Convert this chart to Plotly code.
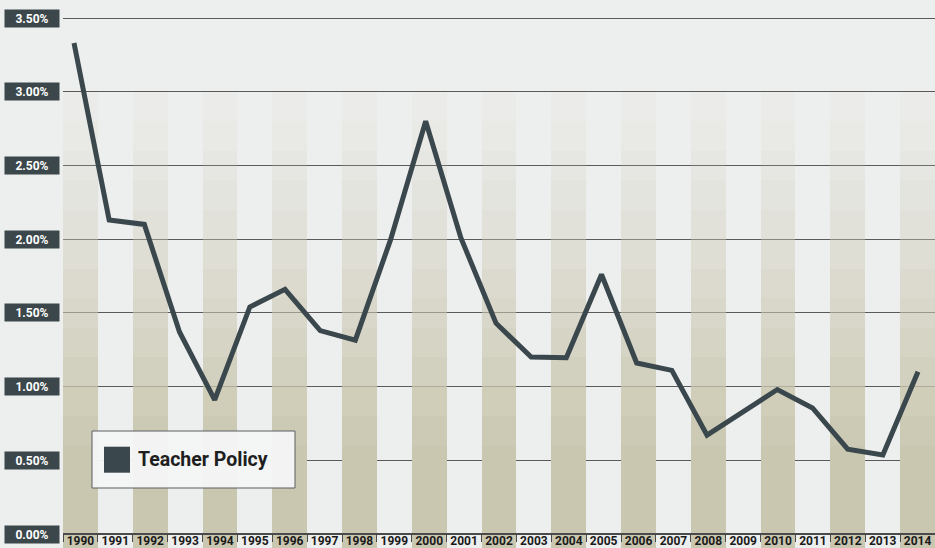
import plotly.graph_objects as go

# ---- data ----
years = [str(y) for y in range(1990, 2015)]
year_nums = list(range(1990, 2015))
teacher_policy = [3.33, 2.13, 2.10, 1.37, 0.91, 1.54, 1.66, 1.38, 1.315, 1.995,
                  2.80, 2.01, 1.43, 1.20, 1.195, 1.76, 1.16, 1.11, 0.67, 0.83,
                  0.98, 0.855, 0.575, 0.536, 1.10]
y_tick_vals = [0.0, 0.5, 1.0, 1.5, 2.0, 2.5, 3.0, 3.5]
y_tick_text = ["0.00%", "0.50%", "1.00%", "1.50%", "2.00%", "2.50%", "3.00%", "3.50%"]
stripe_years = years[::2]

# ---- layout geometry ----
W, H = 935, 548
ML = 63
PW = W - ML
Y_MIN, Y_MAX = -0.09496, 3.6221

LINE_COL = "#3a474c"
BOX_COL = "#3b474b"
TAN = (202, 199, 176)

fig = go.Figure()

# background stripes with upward fade (stacked segments)
fade_levels = [Y_MIN, 0.6, 0.8, 1.0, 1.2, 1.4, 1.6, 1.8, 2.0, 2.2, 2.4, 2.6, 2.8, 3.0]
n_seg = len(fade_levels) - 1
for i in range(n_seg):
    a = 1.0 if i == 0 else max(0.03, 0.95 * (1 - (i - 1) / (n_seg - 1)) ** 1.2)
    lo, hi = fade_levels[i], fade_levels[i + 1]
    fig.add_trace(go.Bar(
        x=stripe_years, y=[hi - lo] * len(stripe_years), base=[lo] * len(stripe_years),
        marker=dict(color=f"rgba({TAN[0]},{TAN[1]},{TAN[2]},{a:.3f})", line=dict(width=0)),
        width=1.0, showlegend=False, hoverinfo="skip", xaxis="x", yaxis="y"))

# main line
fig.add_trace(go.Scatter(
    x=year_nums, y=teacher_policy, mode="lines", name="Teacher Policy",
    line=dict(color=LINE_COL, width=5), showlegend=False, xaxis="x2", yaxis="y"))

annotations = []
for v, t in zip(y_tick_vals, y_tick_text):
    annotations.append(dict(
        x=(60 - ML) / PW, xref="paper", xanchor="right",
        y=v, yref="y", yanchor="middle",
        text=f"<b>{t}</b>", showarrow=False,
        font=dict(family="Roboto", size=12, color="white"),
        bgcolor=BOX_COL, width=54, height=17, borderpad=0, align="center"))

def px_x(p):
    return (p - ML) / PW

def px_y(p):
    return 1 - p / H

shapes = [
    dict(type="rect", xref="paper", yref="paper",
         x0=px_x(92), x1=px_x(295), y0=px_y(488), y1=px_y(431),
         fillcolor="rgba(244,245,245,0.96)", line=dict(color="#5a5f60", width=1), layer="above"),
    dict(type="rect", xref="paper", yref="paper",
         x0=px_x(104), x1=px_x(130), y0=px_y(472.7), y1=px_y(446.7),
         fillcolor=LINE_COL, line=dict(width=0), layer="above"),
]
annotations.append(dict(
    x=px_x(136), xref="paper", xanchor="left", y=px_y(459.5), yref="paper", yanchor="middle",
    text="<b>Teacher Policy</b>", showarrow=False,
    font=dict(family="Roboto", size=19.5, color="#1e1e1e")))

fig.update_layout(
    width=W, height=H,
    margin=dict(l=ML, r=0, t=0, b=0, autoexpand=False),
    paper_bgcolor="#edeeee", plot_bgcolor="#edeeee",
    barmode="overlay", bargap=0,
    showlegend=False,
    xaxis=dict(type="category", categoryorder="array", categoryarray=years,
               range=[-0.5, 24.5], anchor="free", position=14 / H,
               showline=True, linecolor="#4a4a4a", linewidth=1.5,
               ticks="outside", tickson="boundaries", ticklen=7, tickcolor="#4a4a4a", tickwidth=1,
               tickmode="array", tickvals=years, ticktext=years, tickangle=0,
               ticklabelstandoff=-4, automargin=False,
               tickfont=dict(family="Roboto", size=12, color="#1a1a1a", weight="bold"),
               showgrid=False, zeroline=False, fixedrange=True),
    xaxis2=dict(type="linear", overlaying="x", range=[1989.687, 2014.483],
                visible=False, fixedrange=True, automargin=False),
    yaxis=dict(range=[Y_MIN, Y_MAX], tickvals=y_tick_vals[1:], showticklabels=False,
               showgrid=True, gridcolor="#5a5a5a", gridwidth=1, zeroline=False,
               domain=[0, 1], fixedrange=True, automargin=False),
    annotations=annotations, shapes=shapes,
)

fig.write_html("out.html", config={"displayModeBar": False},
               post_script="document.body.style.margin='0';document.body.style.overflow='hidden';")
